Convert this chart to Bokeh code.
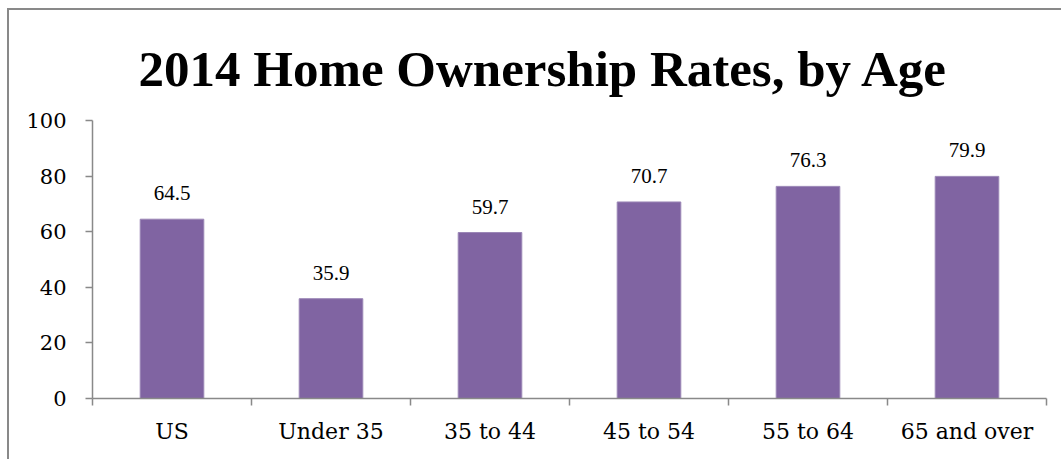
from bokeh.plotting import figure
from bokeh.models import FixedTicker, LabelSet, ColumnDataSource
from bokeh.embed import file_html
from bokeh.resources import INLINE

categories = ["US", "Under 35", "35 to 44", "45 to 54", "55 to 64", "65 and over"]
rates = [64.5, 35.9, 59.7, 70.7, 76.3, 79.9]
y_ticks = [0, 20, 40, 60, 80, 100]
title_text = "2014 Home Ownership Rates, by Age"

FONT = "DejaVu Serif"
GRAY = "#898989"

n = len(categories)
centers = [i + 0.5 for i in range(n)]
src = ColumnDataSource(dict(x=centers, top=rates, lbl=[f"{v:.1f}" for v in rates]))

# outer box starts at (7, 8) on the page; 2px border on left and top
p = figure(width=1054, height=451, output_backend="svg", toolbar_location=None,
           x_range=(0, n), y_range=(0, 100),
           min_border_left=83, min_border_right=17, min_border_top=110, min_border_bottom=63)
p.margin = (8, 0, 0, 7)

p.vbar(x="x", top="top", width=0.4, source=src, fill_color="#8064A2",
       line_color="#9a86b6", line_width=1)

labels = LabelSet(x="x", y="top", text="lbl", source=src, y_offset=19,
                  text_align="center", text_baseline="alphabetic",
                  text_font=FONT, text_font_size="21px", text_color="black")
p.add_layout(labels)

p.grid.visible = False
p.outline_line_color = None

# y axis
p.yaxis.ticker = FixedTicker(ticks=y_ticks)
p.yaxis.axis_line_color = GRAY
p.yaxis.axis_line_width = 1.5
p.yaxis.major_tick_line_color = GRAY
p.yaxis.major_tick_line_width = 1.5
p.yaxis.major_tick_out = 7
p.yaxis.major_tick_in = 0
p.yaxis.minor_tick_line_color = None
p.yaxis.major_label_text_font = FONT
p.yaxis.major_label_text_font_size = "21px"
p.yaxis.major_label_text_color = "black"
p.yaxis.major_label_standoff = 19

# x axis: labels at centers, ticks at boundaries
p.xaxis.ticker = FixedTicker(ticks=centers, minor_ticks=list(range(n + 1)))
p.xaxis.major_label_overrides = {c: cat for c, cat in zip(centers, categories)}
p.xaxis.axis_line_color = GRAY
p.xaxis.axis_line_width = 1.5
p.xaxis.major_tick_line_color = None
p.xaxis.minor_tick_line_color = GRAY
p.xaxis.minor_tick_line_width = 1.5
p.xaxis.minor_tick_out = 7
p.xaxis.minor_tick_in = 0
p.xaxis.major_label_text_font = FONT
p.xaxis.major_label_text_font_size = "22px"
p.xaxis.major_label_text_color = "black"
p.xaxis.major_label_standoff = 13

p.title.text = title_text
p.title.align = "left"
p.title.offset = 46
p.title.standoff = 47
p.title.text_font = "Liberation Serif"
p.title.text_font_style = "bold"
p.title.text_font_size = "51px"
p.title.text_color = "black"

p.styles = {"border-left": f"2px solid {GRAY}", "border-top": f"2px solid {GRAY}"}

open("out.html", "w").write(file_html(p, INLINE))
